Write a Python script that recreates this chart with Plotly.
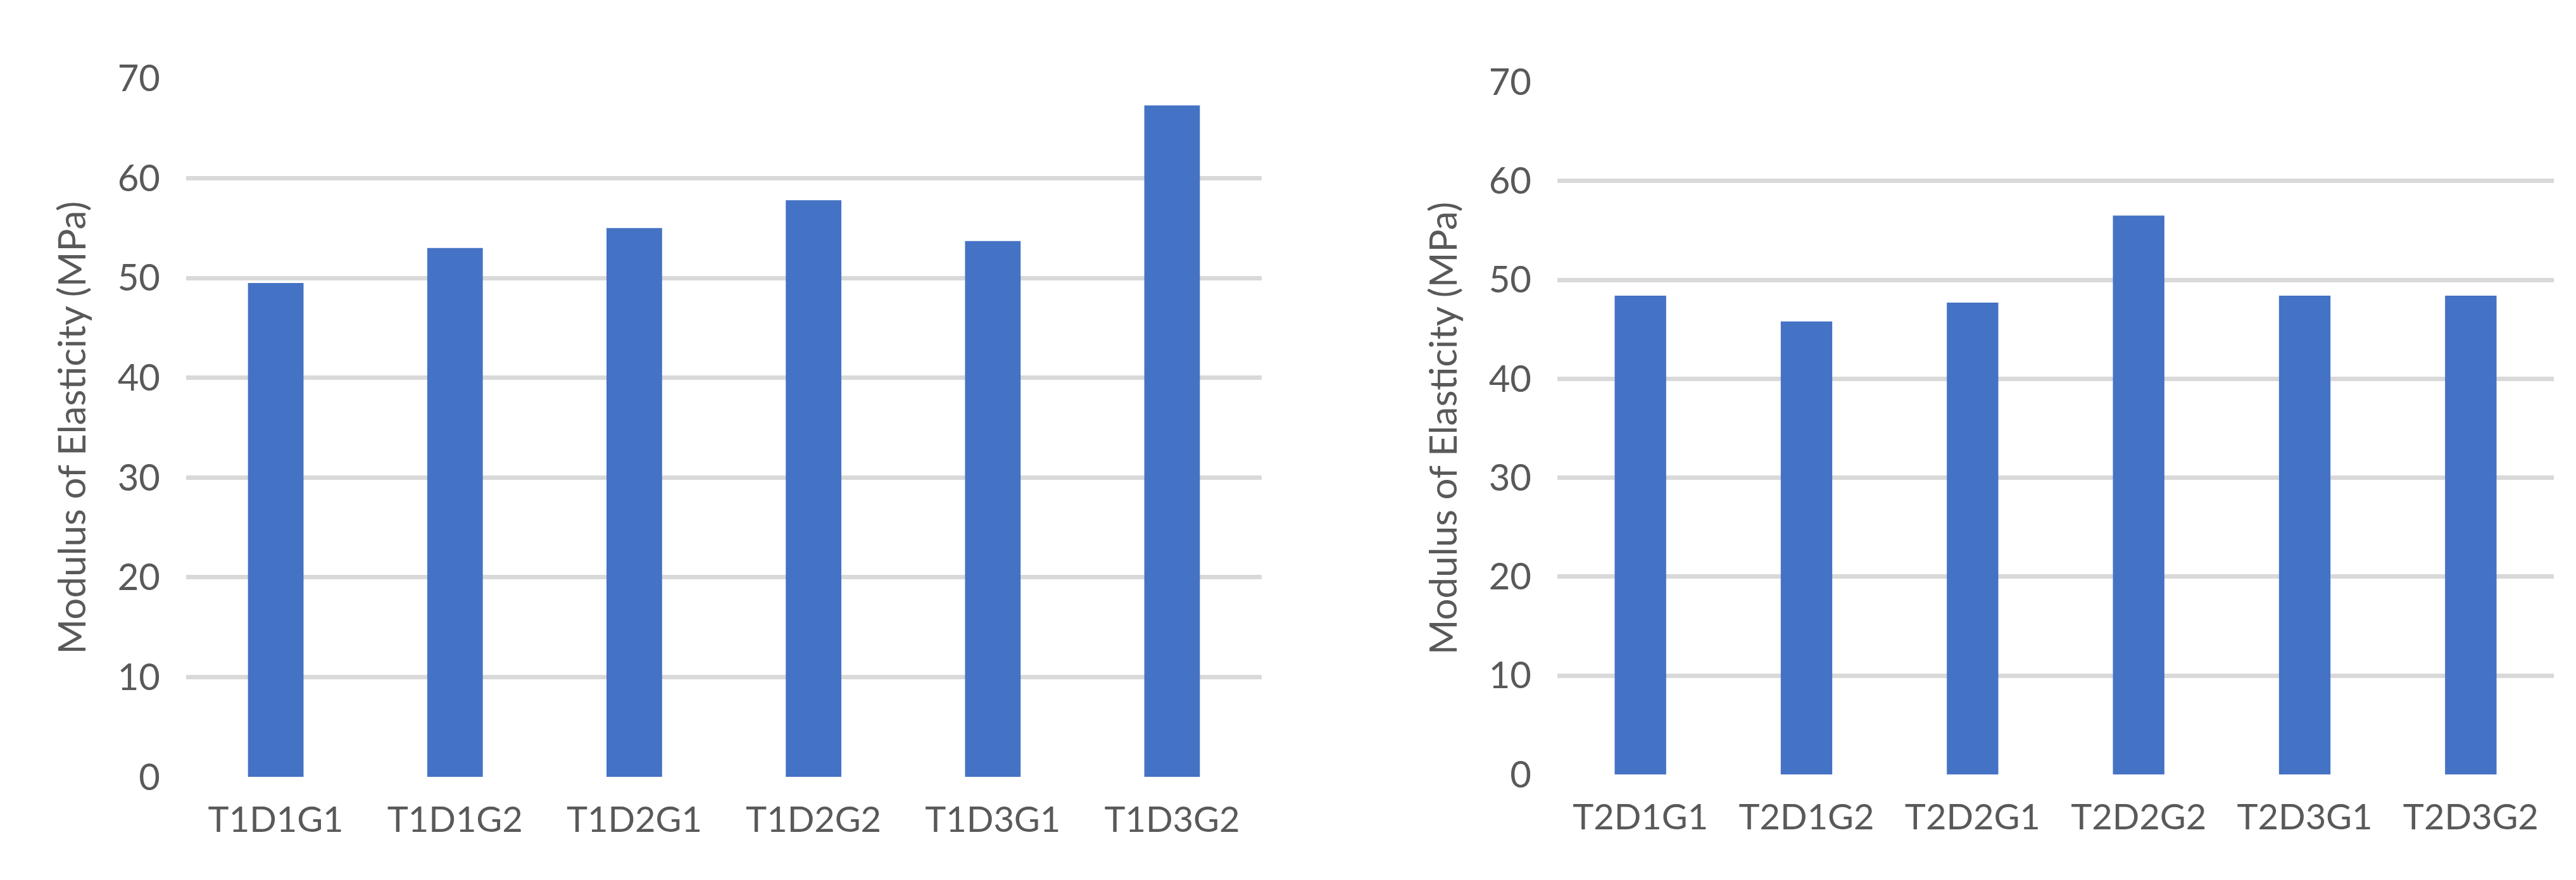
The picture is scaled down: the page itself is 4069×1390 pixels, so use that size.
import plotly.graph_objects as go

cats1 = ["T1D1G1", "T1D1G2", "T1D2G1", "T1D2G2", "T1D3G1", "T1D3G2"]
vals1 = [49.5, 53.0, 55.0, 57.8, 53.7, 67.3]
cats2 = ["T2D1G1", "T2D1G2", "T2D2G1", "T2D2G2", "T2D3G1", "T2D3G2"]
vals2 = [48.4, 45.8, 47.7, 56.5, 48.4, 48.4]
yticks = [0, 10, 20, 30, 40, 50, 60, 70]

W, H = 4069, 1390
fig = go.Figure()
fig.add_bar(x=cats1, y=vals1, marker_color="#4472C4", marker_line_width=0, width=0.31, xaxis="x", yaxis="y")
fig.add_bar(x=cats2, y=vals2, marker_color="#4472C4", marker_line_width=0, width=0.31, xaxis="x2", yaxis="y2")

font = dict(family="Lato, sans-serif", color="#595959")
def yax(dom, anchor):
    return dict(domain=dom, anchor=anchor, range=[0, 70], tickvals=yticks,
                showgrid=True, gridcolor="#D9D9D9", gridwidth=7, zeroline=False,
                showline=False, tickfont=dict(size=58, **font), ticks="",
                ticklabelstandoff=40,
                title=dict(text="Modulus of Elasticity (MPa)", font=dict(size=60, **font), standoff=30))
def xax(dom, anchor):
    return dict(domain=dom, anchor=anchor, showline=False,
                tickfont=dict(size=56, **font), ticks="", showgrid=False,
                ticklabelstandoff=30)

fig.update_layout(
    width=W, height=H, margin=dict(l=0, r=0, t=0, b=0),
    paper_bgcolor="white", plot_bgcolor="white", showlegend=False,
    xaxis=xax([286 / W, 1985 / W], "y"),
    yaxis=yax([1 - 1244 / H, 1 - 83 / H], "x"),
    xaxis2=xax([2452 / W, 4026 / W], "y2"),
    yaxis2=yax([1 - 1240 / H, 1 - 89 / H], "x2"),
)
fig.write_html("out.html")
